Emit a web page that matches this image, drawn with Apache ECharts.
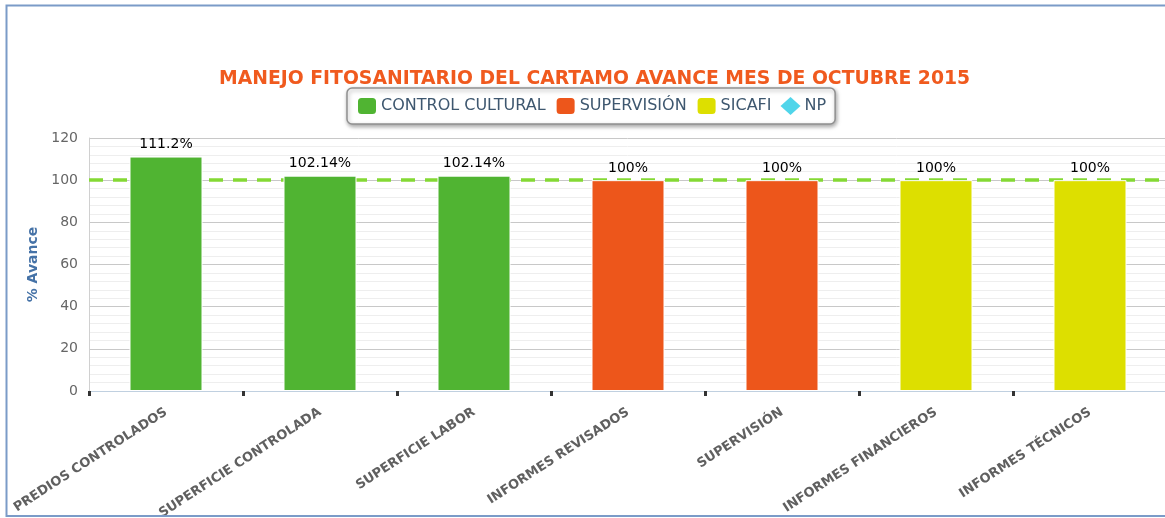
<!DOCTYPE html>
<html>
<head>
<meta charset="utf-8">
<script src="https://cdn.jsdelivr.net/npm/echarts@6/dist/echarts.min.js"></script>
<style>
html,body{margin:0;padding:0;background:#fff;}
#chart{width:1165px;height:518px;}
</style>
</head>
<body>
<div id="chart"></div>
<script>
var categories = ['PREDIOS CONTROLADOS', 'SUPERFICIE CONTROLADA', 'SUPERFICIE LABOR', 'INFORMES REVISADOS', 'SUPERVISIÓN', 'INFORMES FINANCIEROS', 'INFORMES TÉCNICOS'];
var controlCultural = [111.2, 102.14, 102.14, '-', '-', '-', '-'];
var supervision = ['-', '-', '-', 100, 100, '-', '-'];
var sicafi = ['-', '-', '-', '-', '-', 100, 100];
var np = [];
var targetValue = 100;
var yTicks = [0, 20, 40, 60, 80, 100, 120];

var chart = echarts.init(document.getElementById('chart'));
var labelOpt = {
  show: true, position: 'top', distance: 5,
  color: '#000', fontSize: 14, fontFamily: 'DejaVu Sans',
  formatter: function (p) { return p.value + '%'; }
};
function barSeries(name, data, color) {
  return {
    name: name, type: 'bar', stack: 'all', data: data, z: 3,
    barWidth: 73,
    itemStyle: { color: color, borderColor: '#fff', borderWidth: 1 },
    label: labelOpt
  };
}
chart.setOption({
  animation: false,
  title: {
    text: 'MANEJO FITOSANITARIO DEL CARTAMO AVANCE MES DE OCTUBRE 2015',
    left: 214, top: 65,
    textStyle: { color: '#F05A1E', fontSize: 18.8, fontWeight: 'bold', fontFamily: 'DejaVu Sans' }
  },
  legend: {
    top: 88, left: 347,
    padding: [8, 9, 8, 9],
    itemWidth: 20, itemHeight: 18, itemGap: 9,
    borderColor: '#909090', borderWidth: 1.5, borderRadius: 5,
    backgroundColor: '#fff',
    shadowBlur: 4, shadowColor: 'rgba(0,0,0,0.35)', shadowOffsetX: 1, shadowOffsetY: 2,
    textStyle: { color: '#3E576F', fontSize: 16, fontFamily: 'DejaVu Sans', padding: [0, 0, 0, -1] },
    data: [
      { name: 'CONTROL CULTURAL', icon: 'roundRect' },
      { name: 'SUPERVISIÓN', icon: 'roundRect' },
      { name: 'SICAFI', icon: 'roundRect' },
      { name: 'NP', icon: 'diamond' }
    ]
  },
  graphic: [{
    type: 'rect', silent: true, z: 100,
    shape: { x: 6.5, y: 5.5, width: 1175, height: 510.5 },
    style: { fill: 'none', stroke: '#7B9BC8', lineWidth: 2 }
  }],
  grid: { left: 89, right: -2, top: 138, bottom: 127, outerBoundsMode: 'none', containLabel: false },
  xAxis: {
    type: 'category', data: categories,
    axisLine: { show: true, lineStyle: { color: '#C0D0E0', width: 1 } },
    axisTick: { show: true, length: 5, lineStyle: { color: '#333', width: 3 } },
    axisLabel: {
      rotate: 33, interval: 0, margin: 20,
      color: '#606060', fontSize: 13, fontWeight: 'bold', fontFamily: 'DejaVu Sans'
    }
  },
  yAxis: {
    type: 'value', min: 0, max: 120, interval: 20,
    name: '% Avance', nameLocation: 'middle', nameGap: 49, nameRotate: 90,
    nameTextStyle: { color: '#4572A7', fontSize: 14, fontWeight: 'bold', fontFamily: 'DejaVu Sans' },
    axisLine: { show: true, lineStyle: { color: '#D0D0D0' } },
    axisTick: { show: false },
    axisLabel: {
      margin: 11, color: '#666', fontSize: 14, fontFamily: 'DejaVu Sans',
      formatter: function (v) { return yTicks.indexOf(v) >= 0 ? String(v) : ''; }
    },
    splitLine: { show: true, lineStyle: { color: '#C8C8C8', width: 1 } },
    minorTick: { show: false, splitNumber: 5 },
    minorSplitLine: { show: true, lineStyle: { color: '#EEEEEE', width: 1 } }
  },
  series: [
    barSeries('CONTROL CULTURAL', controlCultural, '#50B432'),
    barSeries('SUPERVISIÓN', supervision, '#ED561B'),
    barSeries('SICAFI', sicafi, '#DDDF00'),
    {
      name: 'NP', type: 'scatter', data: np, symbol: 'diamond', z: 1,
      itemStyle: { color: '#24CBE5' },
      markLine: {
        z: 1, silent: true, symbol: 'none',
        label: { show: false },
        lineStyle: { color: '#84D934', width: 3.5, type: [14, 10], opacity: 1 },
        data: [{ yAxis: targetValue }]
      }
    }
  ]
});
</script>
</body>
</html>
